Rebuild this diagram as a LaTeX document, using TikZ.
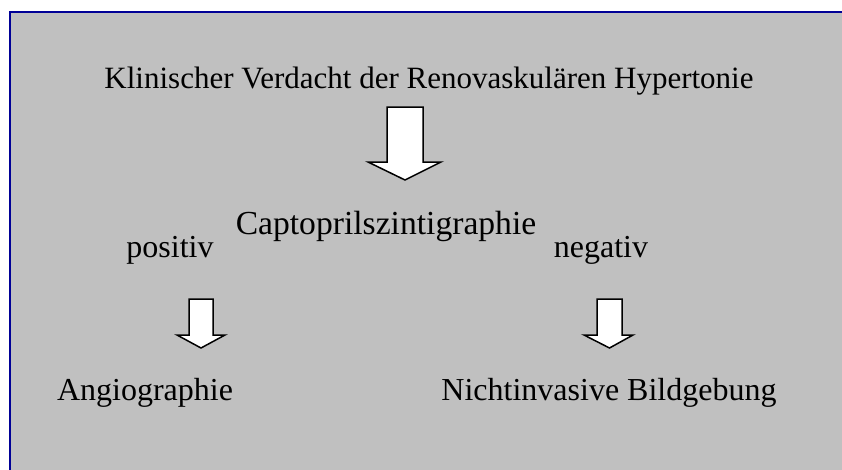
\documentclass[tikz,border=0pt]{standalone}
\usepackage{fontspec}
\setmainfont{Liberation Serif}
\definecolor{panelgrey}{RGB}{192,192,192}
\definecolor{framenavy}{RGB}{0,0,150}
\tikzset{
  label/.style={inner sep=0pt, anchor=base, font=\fontsize{32}{36}\selectfont},
  blockarrow/.style={draw=black, fill=white, line width=1.5pt, line join=miter}
}
\begin{document}
\begin{tikzpicture}[x=1pt,y=-1pt]
      \useasboundingbox (0,0) rectangle (842,469);
      \begin{scope}
        \clip (0,0) rectangle (842,469);
        \draw[fill=panelgrey, draw=framenavy, line width=2.2pt] (10,12) rectangle (850,480);
      \end{scope}
      \node[label, font=\fontsize{31}{36}\selectfont] (verdacht) at (429,88) {Klinischer Verdacht der Renovaskulären Hypertonie};
      \node[label, font=\fontsize{33.6}{38}\selectfont] (capto) at (386,234) {Captoprilszintigraphie};
      \node[label] (pos) at (170,257) {positiv};
      \node[label] (neg) at (601,257) {negativ};
      \node[label] (angio) at (145,400) {Angiographie};
      \node[label] (bild) at (609,400) {Nichtinvasive Bildgebung};
      \draw[blockarrow] (387,107) -- (423,107) -- (423,162) -- (441,162)
        -- (405,180) -- (368,162) -- (387,162) -- cycle;
      \draw[blockarrow] (189,299) -- (213,299) -- (213,335) -- (225,335)
        -- (201,348) -- (177,335) -- (189,335) -- cycle;
      \draw[blockarrow] (597,299) -- (622,299) -- (622,335) -- (633,335)
        -- (609.5,348) -- (584,335) -- (597,335) -- cycle;
    \end{tikzpicture}
\end{document}
